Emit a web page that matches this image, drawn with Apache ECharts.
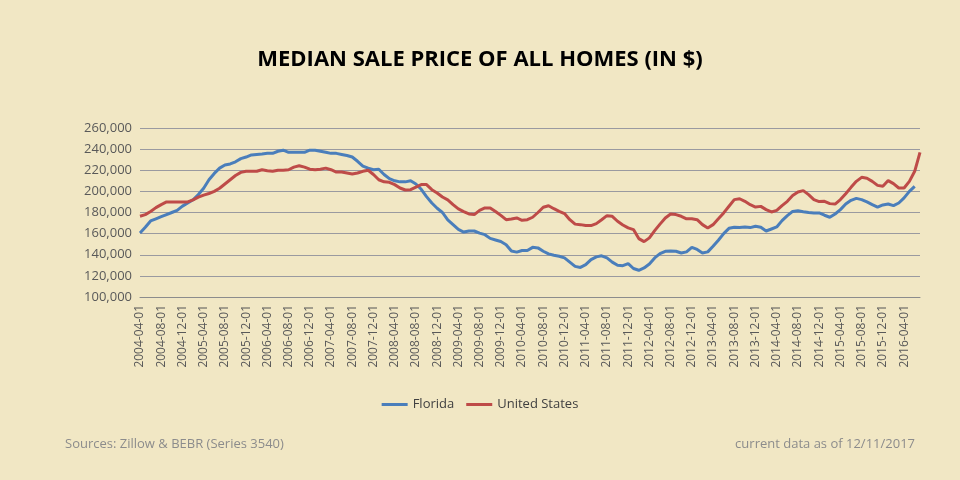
<!DOCTYPE html>
<html>
<head>
<meta charset="utf-8">
<script src="https://cdn.jsdelivr.net/npm/echarts@6/dist/echarts.min.js"></script>
<style>
  html, body { margin: 0; padding: 0; background: #f1e7c4; }
  #main { width: 960px; height: 480px; }
</style>
</head>
<body>
<div id="main"></div>
<script>
// monthly dates, 2004-04-01 .. 2016-07-01
var months = [];
for (var y = 2004, m = 4; months.length < 148; m++) {
  if (m > 12) { m = 1; y++; }
  months.push(y + '-' + (m < 10 ? '0' + m : m) + '-01');
}

// values in thousands of dollars
var florida = [160.6,166,172,174,176,178,180,182,186,189,192,197,203,211,217,222,225,226,228,231,
  232.5,234.5,235,235.4,236,236,238,239,237,237,237,237,239,239,238,237,236,236,235,234,
  232.5,228.5,224,222,220.5,221,216,212,210,209,209,210,207,202,195,189,184,180,173,168.5,
  164,161.5,162.5,162.5,160.5,159,155.5,154,152.5,149.5,143.5,142.5,144,144,147,146.5,143.3,140.8,139.5,138.6,
  137,133,129,128,130.6,135.4,138,139,137,133,130,129.7,131.6,127,125.3,127.5,131.3,137,141,143.3,
  143.6,143.3,141.7,142.7,147,145,141.7,142.7,148,153.7,160,165,166,165.7,166.3,165.7,167,166,162.5,164.4,
  166.3,172.3,177,181,181.7,180.8,180,179.6,179.6,177.4,175.5,178.6,182.7,188,191.5,193.4,192.2,190,187.4,185,
  187.2,188,186.5,189,193.8,200,204.8,null];
var unitedStates = [176.5,178,181,184.6,187.5,190,190,190,190,190,192,194.5,196.5,198,200,203,207,211,215,218,
  219,219,219,220.5,219.6,219,220,220,220.5,223,224.3,223,221,220.5,221,222,220.5,218.3,218.3,217.4,
  216.5,217.4,219,220,216,211,209,208.6,206.4,203.2,201.3,201.6,204,206.4,206.4,201.6,198.5,194.7,192,187.5,
  183.4,180.8,178.6,178,182,184.3,184.3,181,177.3,173.2,173.8,174.8,172.6,173.2,175.5,180,185,186.4,183.6,181,
  179,173.2,169,168.5,167.6,167.6,169.5,173.2,177,176.4,171.7,168.2,165.4,163.8,155.3,152.4,156,162.8,169,174.8,
  178.6,178,176.4,174,174,173.2,168.5,165.4,168.5,174,179.6,185.9,192.2,193,190.6,187.4,185.2,185.8,182.7,180.5,
  182,186.5,190.6,196,199.4,200.7,196.9,192.2,190.3,190.6,188.4,188,192.2,197.8,203.8,209.5,213.3,212.4,209.5,205.7,
  204.8,210.2,207.3,203.2,203.2,209.5,219,237];

function toDollars(a) { return a.map(function (v) { return v == null ? null : Math.round(v * 1000); }); }

var chart = echarts.init(document.getElementById('main'));
var option = {
  backgroundColor: '#f1e7c4',
  animation: false,
  title: [{
    text: 'MEDIAN SALE PRICE OF ALL HOMES (IN $)',
    left: 'center', top: 44,
    textStyle: { fontFamily: 'Open Sans', fontSize: 22, fontWeight: 'bold', color: '#000' }
  }, {
    text: 'Sources: Zillow & BEBR (Series 3540)',
    left: 60, top: 433,
    textStyle: { fontFamily: 'Open Sans', fontSize: 13, fontWeight: 'normal', color: '#8c8c8c' }
  }, {
    text: 'current data as of 12/11/2017',
    right: 40, top: 433,
    textStyle: { fontFamily: 'Open Sans', fontSize: 13, fontWeight: 'normal', color: '#8c8c8c' }
  }],
  legend: {
    bottom: 64, left: 'center',
    itemWidth: 26, itemHeight: 3, itemGap: 12,
    icon: 'rect',
    textStyle: { fontFamily: 'Open Sans', fontSize: 13, color: '#404040' },
    data: ['Florida', 'United States']
  },
  grid: { left: 140, right: 40, top: 128, bottom: 183 },
  xAxis: {
    type: 'category',
    boundaryGap: false,
    data: months,
    axisLine: { lineStyle: { color: '#8c8c8c' } },
    axisTick: { show: false },
    axisLabel: { interval: 3, rotate: 90, color: '#595959', fontFamily: 'Open Sans', fontSize: 12, margin: 8 }
  },
  yAxis: {
    type: 'value',
    min: 100000, max: 260000, interval: 20000,
    axisLine: { show: false },
    axisTick: { show: false },
    axisLabel: { color: '#595959', fontFamily: 'Open Sans', fontSize: 13, margin: 8 },
    splitLine: { lineStyle: { color: '#9a9aa0', width: 1 } }
  },
  series: [{
    name: 'Florida', type: 'line', data: toDollars(florida),
    showSymbol: false, itemStyle: { color: '#4a7ebb' }, lineStyle: { width: 3, color: '#4a7ebb' }
  }, {
    name: 'United States', type: 'line', data: toDollars(unitedStates),
    showSymbol: false, itemStyle: { color: '#be4b48' }, lineStyle: { width: 3, color: '#be4b48' }
  }]
};
chart.setOption(option);
</script>
</body>
</html>
